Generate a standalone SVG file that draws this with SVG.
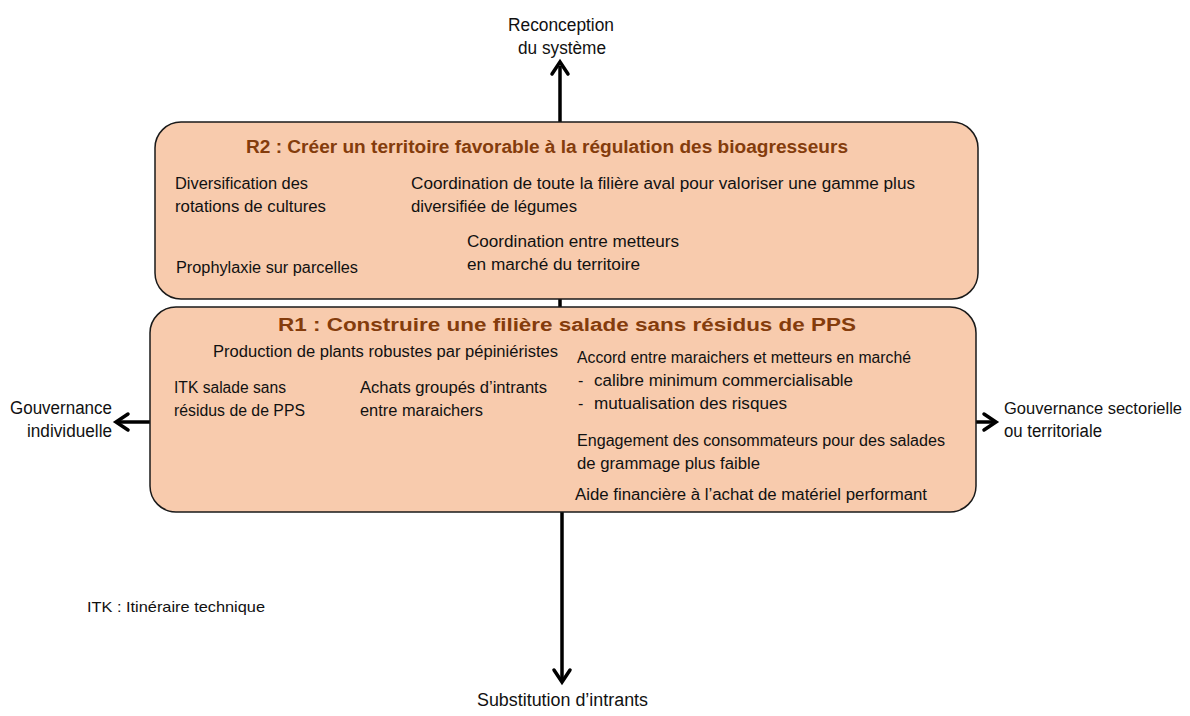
<svg xmlns="http://www.w3.org/2000/svg" width="1190" height="716" viewBox="0 0 1190 716">
<style>
.box{fill:#F8CBAD;stroke:#1a1a1a;stroke-width:1.5}
.t{font-family:"Liberation Sans",Arial,sans-serif;font-size:16px;fill:#111}
.title{font-family:"Liberation Sans",Arial,sans-serif;font-size:18px;font-weight:bold;fill:#843C0C}
.ax{font-family:"Liberation Sans",Arial,sans-serif;font-size:18px;fill:#111}
.line{stroke:#000;stroke-width:3.5;fill:none}
.head{stroke:#000;stroke-width:3.5;fill:none;stroke-linecap:round;stroke-linejoin:miter}
</style>
<rect width="1190" height="716" fill="#fff"/>
<g id="connectors">
<line class="line" x1="560" y1="66" x2="560" y2="122"/>
<path class="head" d="M552 74 L560 62 L568 74"/>
<line class="line" x1="560" y1="299" x2="560" y2="307"/>
<line class="line" x1="562" y1="512" x2="562" y2="680"/>
<path class="head" d="M554 670 L562 682 L570 670"/>
<line class="line" x1="150" y1="422" x2="118" y2="422"/>
<path class="head" d="M128 414 L116 422 L128 430"/>
<line class="line" x1="976" y1="422" x2="994" y2="422"/>
<path class="head" d="M984 414 L996 422 L984 430"/>
</g>
<g id="r2">
<rect class="box" x="155" y="122" width="823" height="177" rx="26"/>
<text class="title" x="246" y="153" textLength="602" lengthAdjust="spacingAndGlyphs">R2 : Créer un territoire favorable à la régulation des bioagresseurs</text>
<text class="t" x="175" y="189" textLength="133" lengthAdjust="spacingAndGlyphs">Diversification des</text>
<text class="t" x="175" y="212" textLength="151" lengthAdjust="spacingAndGlyphs">rotations de cultures</text>
<text class="t" x="411" y="189" textLength="504" lengthAdjust="spacingAndGlyphs">Coordination de toute la filière aval pour valoriser une gamme plus</text>
<text class="t" x="411" y="212" textLength="166" lengthAdjust="spacingAndGlyphs">diversifiée de légumes</text>
<text class="t" x="467" y="247" textLength="212" lengthAdjust="spacingAndGlyphs">Coordination entre metteurs</text>
<text class="t" x="467" y="270" textLength="173" lengthAdjust="spacingAndGlyphs">en marché du territoire</text>
<text class="t" x="176" y="273" textLength="182" lengthAdjust="spacingAndGlyphs">Prophylaxie sur parcelles</text>
</g>
<g id="r1">
<rect class="box" x="150" y="307" width="826" height="205" rx="26"/>
<text class="title" x="278" y="331" textLength="578" lengthAdjust="spacingAndGlyphs">R1 : Construire une filière salade sans résidus de PPS</text>
<text class="t" x="213" y="357" textLength="345" lengthAdjust="spacingAndGlyphs">Production de plants robustes par pépiniéristes</text>
<text class="t" x="174" y="393" textLength="112" lengthAdjust="spacingAndGlyphs">ITK salade sans</text>
<text class="t" x="174" y="416" textLength="131" lengthAdjust="spacingAndGlyphs">résidus de de PPS</text>
<text class="t" x="360" y="393" textLength="187" lengthAdjust="spacingAndGlyphs">Achats groupés d’intrants</text>
<text class="t" x="360" y="416" textLength="123" lengthAdjust="spacingAndGlyphs">entre maraichers</text>
<text class="t" x="577" y="363" textLength="334" lengthAdjust="spacingAndGlyphs">Accord entre maraichers et metteurs en marché</text>
<text class="t" x="578" y="386">-</text>
<text class="t" x="594" y="386" textLength="259" lengthAdjust="spacingAndGlyphs">calibre minimum commercialisable</text>
<text class="t" x="578" y="409">-</text>
<text class="t" x="594" y="409" textLength="193" lengthAdjust="spacingAndGlyphs">mutualisation des risques</text>
<text class="t" x="577" y="446" textLength="368" lengthAdjust="spacingAndGlyphs">Engagement des consommateurs pour des salades</text>
<text class="t" x="577" y="469" textLength="183" lengthAdjust="spacingAndGlyphs">de grammage plus faible</text>
<text class="t" x="575" y="500" textLength="352" lengthAdjust="spacingAndGlyphs">Aide financière à l’achat de matériel performant</text>
</g>
<g id="labels">
<text class="ax" x="508" y="31" textLength="106" lengthAdjust="spacingAndGlyphs">Reconception</text>
<text class="ax" x="518" y="54" textLength="88" lengthAdjust="spacingAndGlyphs">du système</text>
<text class="ax" x="10" y="414" textLength="102" lengthAdjust="spacingAndGlyphs">Gouvernance</text>
<text class="ax" x="27" y="437" textLength="85" lengthAdjust="spacingAndGlyphs">individuelle</text>
<text class="ax" x="1004" y="414" style="font-size:16px" textLength="178" lengthAdjust="spacingAndGlyphs">Gouvernance sectorielle</text>
<text class="ax" x="1004" y="437" textLength="98" lengthAdjust="spacingAndGlyphs">ou territoriale</text>
<text class="ax" x="477" y="706" textLength="171" lengthAdjust="spacingAndGlyphs">Substitution d’intrants</text>
<text class="t" x="87" y="612" style="font-size:15px" textLength="178" lengthAdjust="spacingAndGlyphs">ITK : Itinéraire technique</text>
</g>
</svg>
